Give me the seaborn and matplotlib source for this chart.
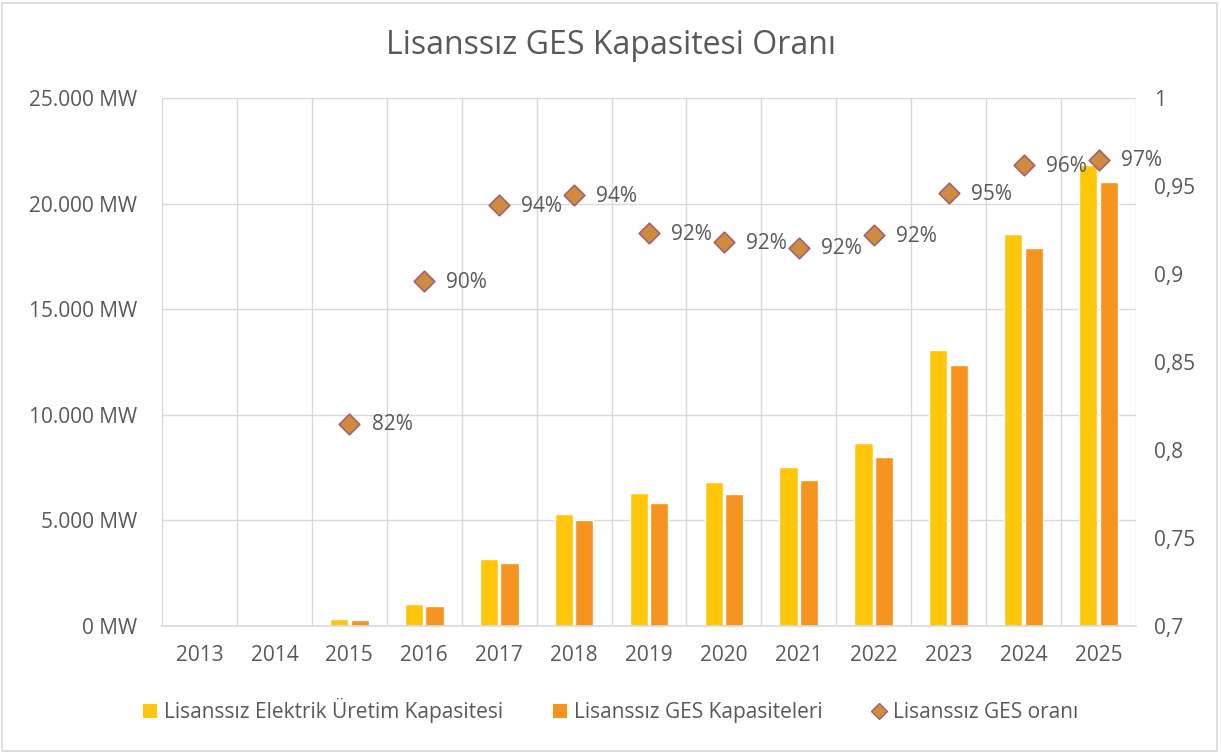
import numpy as np
import pandas as pd
import matplotlib
matplotlib.use("Agg")
import matplotlib.pyplot as plt
import seaborn as sns
from matplotlib.patches import Patch, Rectangle
from matplotlib.lines import Line2D
from matplotlib.ticker import FuncFormatter, MultipleLocator

years = ["2013", "2014", "2015", "2016", "2017", "2018", "2019",
         "2020", "2021", "2022", "2023", "2024", "2025"]
elektrik_mw = [0, 50, 330, 1040, 3170, 5300, 6300, 6820, 7530, 8660, 13070, 18560, 21830]
ges_mw = [0, 45, 280, 950, 2980, 5020, 5820, 6250, 6910, 8000, 12360, 17900, 21020]
ges_orani = [np.nan, np.nan, 0.815, 0.896, 0.939, 0.945, 0.923, 0.918, 0.915, 0.922, 0.946, 0.962, 0.965]
orani_labels = ["", "", "82%", "90%", "94%", "94%", "92%", "92%", "92%", "92%", "95%", "96%", "97%"]

series_names = ["Lisanssız Elektrik Üretim Kapasitesi", "Lisanssız GES Kapasiteleri"]
ratio_name = "Lisanssız GES oranı"
title = "Lisanssız GES Kapasitesi Oranı"

YELLOW = "#FFC60A"
ORANGE = "#F7941F"
MARKER_FILL = "#D08B40"
MARKER_EDGE = "#A0646C"
TEXT = "#595959"
GRID = "#D9D9D9"

sns.set_theme(style="white")
plt.rcParams["font.family"] = ["Open Sans", "DejaVu Sans"]

df = pd.DataFrame({
    "year": years * 2,
    "mw": elektrik_mw + ges_mw,
    "seri": [series_names[0]] * len(years) + [series_names[1]] * len(years),
})

fig = plt.figure(figsize=(12.21, 7.53), dpi=100)
ax = fig.add_axes([0.1327, 0.1687, 0.7977, 0.7012])

sns.barplot(data=df, x="year", y="mw", hue="seri", order=years,
            hue_order=series_names, palette=[YELLOW, ORANGE],
            width=0.55, gap=0.12, ax=ax, legend=False, saturation=1)

ax.set_xlim(-0.5, len(years) - 0.5)
ax.set_ylim(0, 25000)
ax.yaxis.set_major_locator(MultipleLocator(5000))
ax.yaxis.set_major_formatter(FuncFormatter(lambda v, p: f"{int(v):,} MW".replace(",", ".")))
ax.set_xlabel("")
ax.set_ylabel("")

# grid: horizontal at ticks, vertical at category boundaries
for yv in np.arange(5000, 25001, 5000):
    ax.axhline(yv, color=GRID, lw=1, zorder=0)
for xb in np.arange(-0.5, len(years), 1.0):
    ax.axvline(xb, color=GRID, lw=1, zorder=0)
ax.set_axisbelow(True)

for s in ["top", "right", "left"]:
    ax.spines[s].set_visible(False)
ax.spines["bottom"].set_color(GRID)
ax.spines["bottom"].set_linewidth(1.2)
ax.tick_params(axis="y", length=0, labelsize=15, colors=TEXT, pad=18)
ax.tick_params(axis="x", length=0, labelsize=15, colors=TEXT, pad=14)

ax2 = ax.twinx()
xpos = np.arange(len(years))
ax2.scatter(xpos, ges_orani, marker="D", s=110, color=MARKER_FILL,
            edgecolor=MARKER_EDGE, linewidth=1.2, zorder=5)
for x, v, lab in zip(xpos, ges_orani, orani_labels):
    if lab:
        ax2.annotate(lab, (x, v), xytext=(16, -1), textcoords="offset points",
                     ha="left", va="center", fontsize=15, color=TEXT)
ax2.set_ylim(0.7, 1.0)
ax2.yaxis.set_major_locator(MultipleLocator(0.05))
ax2.yaxis.set_major_formatter(FuncFormatter(lambda v, p: f"{round(v, 2):g}".replace(".", ",")))
for s in ["top", "right", "left", "bottom"]:
    ax2.spines[s].set_visible(False)
ax2.tick_params(axis="y", length=0, labelsize=15, colors=TEXT, pad=13)
ax2.grid(False)

fig.text(0.5, 0.939, title, ha="center", va="center", fontsize=23, color=TEXT)

handles = [
    Patch(facecolor=YELLOW, edgecolor="none", label=series_names[0]),
    Patch(facecolor=ORANGE, edgecolor="none", label=series_names[1]),
    Line2D([], [], marker="D", linestyle="none", markersize=8,
           markerfacecolor=MARKER_FILL, markeredgecolor=MARKER_EDGE, label=ratio_name),
]
leg = fig.legend(handles=handles, loc="center", bbox_to_anchor=(0.5, 0.056), ncol=3,
                 frameon=False, fontsize=15, handlelength=0.7, handleheight=0.7,
                 handletextpad=0.3, columnspacing=2.4)
for t in leg.get_texts():
    t.set_color(TEXT)

fig.patches.append(Rectangle((0.002, 0.003), 0.995, 0.993, transform=fig.transFigure,
                             fill=False, edgecolor=GRID, linewidth=1.2))

fig.savefig("out.png", dpi=100)
